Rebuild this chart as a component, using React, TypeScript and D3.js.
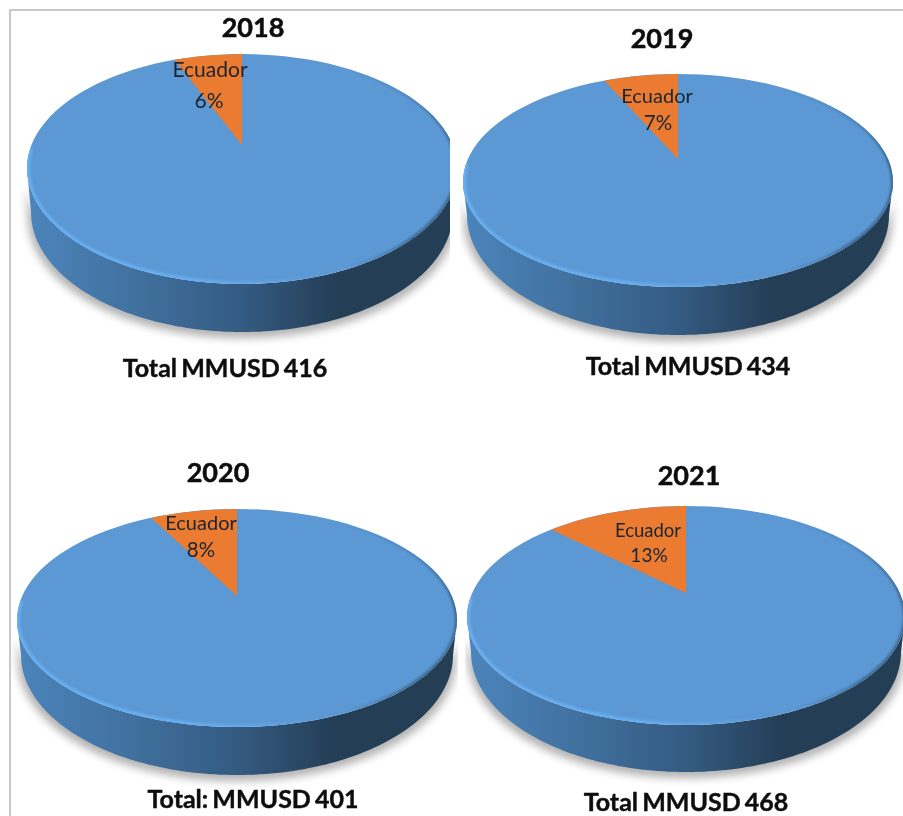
import React from "react";
import * as d3 from "d3";

const years = ["2018", "2019", "2020", "2021"];
const ecuadorShares = [6, 7, 8, 13];
const sliceName = "Ecuador";
const totalLabels = ["Total MMUSD 416", "Total MMUSD 434", "Total: MMUSD 401", "Total MMUSD 468"];

// where each pie sits on the page (the four pies were pasted by hand, so nothing lines up)
const pieFrames = [
  { cx: 242, rx: 215, top: 54, mid: 168, bottom: 284, base: 332, apexY: 145, clip: [11, 450] },
  { cx: 678, rx: 215, top: 74, mid: 182, bottom: 287, base: 335, apexY: 159, clip: [460, 903] },
  { cx: 237, rx: 220, top: 509, mid: 620, bottom: 727, base: 775, apexY: 596, clip: [11, 458] },
  { cx: 686, rx: 219, top: 506, mid: 617, bottom: 725, base: 772, apexY: 593, clip: [465, 903] },
];
const titlePlaces = [[253, 37], [662, 48], [218, 482], [689, 485]];
const totalPlaces = [[225, 377], [688, 375], [253, 808], [686, 811]];
const namePlaces = [[210, 77, 21], [657, 103, 20], [201, 530, 20], [648, 537, 18.5]];
const sharePlaces = [[209, 108, 21], [658, 130, 20.5], [201, 557, 20.5], [649, 562, 19]];

const pie = d3.pie<number>().sort(null).value(d => d);
const outline = d3.line<[number, number]>();
const toRad = d3.scaleLinear().domain([0, 360]).range([0, 2 * Math.PI]);

// foreshortening of the tilted pie, read from the slice edges
const TILT = 2;

// upper and lower half of the face have slightly different radii
function rimPoints(cx: number, cy: number, rx: number, ryUp: number, ryDown: number, from: number, to: number) {
  return d3.range(0, 121).map(i => {
    const t = from + ((to - from) * i) / 120;
    const c = Math.cos(t);
    return [cx + rx * Math.sin(t), cy - (c > 0 ? ryUp : ryDown) * c] as [number, number];
  });
}

function Pie3D({ index }: { index: number }) {
  const f = pieFrames[index];
  const ryUp = f.mid - f.top;
  const ryDown = f.bottom - f.mid;
  const share = ecuadorShares[index];
  const arcs = pie([100 - share, share]);
  const a = arcs[1].startAngle;

  // the apex is off the ellipse centre, so cast a ray from it onto the rim
  const dx = TILT * Math.sin(a);
  const dy = -Math.cos(a);
  const oy = f.apexY - f.mid;
  const qa = (dx * dx) / (f.rx * f.rx) + (dy * dy) / (ryUp * ryUp);
  const qb = (2 * oy * dy) / (ryUp * ryUp);
  const qc = (oy * oy) / (ryUp * ryUp) - 1;
  const s = (-qb + Math.sqrt(qb * qb - 4 * qa * qc)) / (2 * qa);
  const ex = (dx * s) / f.rx;
  const ey = (f.apexY + dy * s - f.mid) / ryUp;
  const rimAngle = Math.atan2(ex, -ey);

  const slice: [number, number][] = [
    [f.cx, f.apexY],
    ...rimPoints(f.cx, f.mid, f.rx, ryUp, ryDown, rimAngle, 0),
  ];

  const face = rimPoints(f.cx, f.mid, f.rx, ryUp, ryDown, 0, toRad(360));

  // lower edge of the side wall
  const lowRx = f.rx - 4;
  const lowRy = 120;
  const lowCy = f.base - lowRy;
  const side: [number, number][] = [
    ...rimPoints(f.cx, f.mid, f.rx, ryUp, ryDown, toRad(90), toRad(270)),
    ...rimPoints(f.cx, lowCy, lowRx, lowRy, lowRy, toRad(270), toRad(90)),
  ];
  const shadow: [number, number][] = [
    ...rimPoints(f.cx, f.mid + 6, f.rx + 3, ryUp, ryDown, toRad(90), toRad(270)),
    ...rimPoints(f.cx, lowCy + 6, lowRx + 3, lowRy, lowRy, toRad(270), toRad(90)),
  ];

  const clipId = `clip-${index}`;
  const topId = `top-${index}`;

  return (
    <g clipPath={`url(#${clipId})`}>
      <defs>
        <clipPath id={clipId}>
          <rect x={f.clip[0]} y={11} width={f.clip[1] - f.clip[0]} height={805} />
        </clipPath>
        <clipPath id={topId}>
          <path d={outline(face) + "Z"} />
        </clipPath>
      </defs>
      <path d={outline(shadow) + "Z"} fill="#000" opacity={0.3} filter="url(#soft)" />
      <path d={outline(side) + "Z"} fill="url(#sideFill)" />
      <path d={outline(face) + "Z"} fill="#5b98d4" />
      <g clipPath={`url(#${topId})`}>
        <path d={outline(slice) + "Z"} fill="#ea7b30" />
        <path
          d={outline(rimPoints(f.cx, f.mid, f.rx, ryUp, ryDown, toRad(280), toRad(140))) ?? ""}
          fill="none" stroke="url(#rimLight)" strokeWidth={6} filter="url(#rimBlur)"
        />
        <path
          d={outline(rimPoints(f.cx, f.mid, f.rx, ryUp, ryDown, toRad(30), toRad(150))) ?? ""}
          fill="none" stroke="url(#rimDark)" strokeWidth={4} filter="url(#rimBlur)"
        />
      </g>
    </g>
  );
}

export default function App() {
  return (
    <svg width={903} height={816} style={{ position: "absolute", left: 0, top: 0, display: "block" }}>
      <defs>
        <linearGradient id="sideFill" x1="0" x2="1" y1="0" y2="0">
          <stop offset="0" stopColor="#4c85bc" />
          <stop offset="0.25" stopColor="#41719f" />
          <stop offset="0.5" stopColor="#345b82" />
          <stop offset="0.72" stopColor="#243e56" />
          <stop offset="1" stopColor="#243e56" />
        </linearGradient>
        <linearGradient id="rimLight" x1="0" x2="1" y1="0" y2="0">
          <stop offset="0" stopColor="#68aef0" />
          <stop offset="0.45" stopColor="#68aef0" />
          <stop offset="0.85" stopColor="#68aef0" stopOpacity={0} />
        </linearGradient>
        <linearGradient id="rimDark" x1="0" x2="0" y1="0" y2="1">
          <stop offset="0" stopColor="#24405c" stopOpacity={0} />
          <stop offset="0.4" stopColor="#24405c" stopOpacity={0.6} />
          <stop offset="0.85" stopColor="#24405c" stopOpacity={0.6} />
          <stop offset="1" stopColor="#24405c" stopOpacity={0} />
        </linearGradient>
        <filter id="soft" x="-10%" y="-10%" width="120%" height="120%">
          <feGaussianBlur stdDeviation="4" />
        </filter>
        <filter id="rimBlur" x="-5%" y="-5%" width="110%" height="110%">
          <feGaussianBlur stdDeviation="1.2" />
        </filter>
        <filter id="textBlur" x="-5%" y="-20%" width="110%" height="140%">
          <feGaussianBlur stdDeviation="0.35" />
        </filter>
      </defs>

      <rect width={903} height={816} fill="#fff" />
      {years.map((y, i) => <Pie3D key={y} index={i} />)}

      <path d="M10,816V10H903" fill="none" stroke="#c9c9c9" strokeWidth={2} />

      <g fontFamily="Lato" textAnchor="middle" filter="url(#textBlur)" fill="#0b0b0b">
        {years.map((y, i) => (
          <text key={y} x={titlePlaces[i][0]} y={titlePlaces[i][1]} fontSize={27} fontWeight={700} stroke="#0b0b0b" strokeWidth={0.5}>{y}</text>
        ))}
        {totalLabels.map((t, i) => (
          <text key={t} x={totalPlaces[i][0]} y={totalPlaces[i][1]} fontSize={25} fontWeight={700} wordSpacing={-2} stroke="#0b0b0b" strokeWidth={0.4}>{t}</text>
        ))}
        {years.map((y, i) => (
          <text key={y} x={namePlaces[i][0]} y={namePlaces[i][1]} fontSize={namePlaces[i][2]} fill="#1a2530">{sliceName}</text>
        ))}
        {ecuadorShares.map((v, i) => (
          <text key={years[i]} x={sharePlaces[i][0]} y={sharePlaces[i][1]} fontSize={sharePlaces[i][2]} fill="#1a2530">{v}%</text>
        ))}
      </g>
    </svg>
  );
}
